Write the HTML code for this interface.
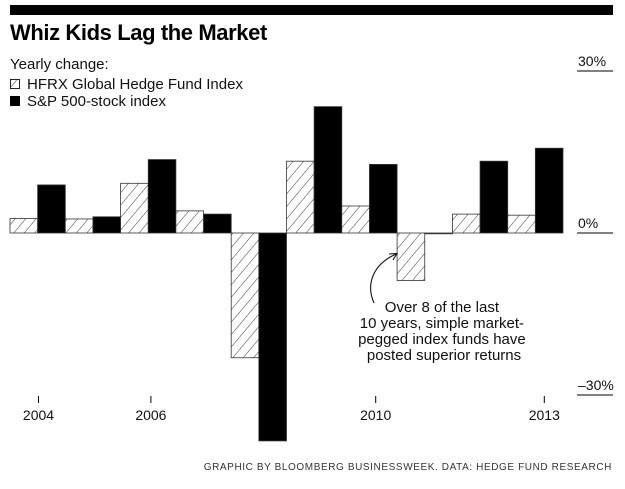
<!DOCTYPE html>
<html><head><meta charset="utf-8"><style>
html,body{margin:0;padding:0;background:#fff;}
svg{display:block;font-family:"Liberation Sans",Arial,sans-serif;}
</style></head><body>
<svg id="chart" width="625" height="489" viewBox="0 0 625 489">
<defs>
<pattern id="hatch" patternUnits="userSpaceOnUse" width="8" height="8" patternTransform="rotate(40)">
<rect width="8" height="8" fill="#fff"/>
<line x1="0" y1="0" x2="0" y2="8" stroke="#222" stroke-width="0.9"/>
</pattern>
</defs>
<rect x="10" y="5" width="603" height="10" fill="#000"/>
<text x="10" y="40" font-size="22" font-weight="bold" letter-spacing="-0.4" fill="#000">Whiz Kids Lag the Market</text>
<text x="10" y="69" font-size="15" fill="#111">Yearly change:</text>
<g>
<rect x="10.5" y="79.5" width="9" height="9" fill="url(#hatch)" stroke="#222" stroke-width="1"/>
<text x="27" y="89" font-size="15" fill="#111">HFRX Global Hedge Fund Index</text>
</g>
<g>
<rect x="10" y="96" width="10" height="10" fill="#000"/>
<text x="27" y="106" font-size="15" fill="#111">S&amp;P 500-stock index</text>
</g>
<g id="bars"></g>
<g id="axis"></g>
<g id="xaxis"></g>
<g>
<path d="M374,303 C366,285 372,265 396,254" fill="none" stroke="#111" stroke-width="1.1"/>
<path d="M389,254 L397,253.5 L393,260" fill="none" stroke="#111" stroke-width="1.1"/>
<text font-size="15" fill="#111" text-anchor="middle">
<tspan x="444" y="312">Over 8 of the last</tspan>
<tspan x="444" y="328">10 years, simple market-</tspan>
<tspan x="444" y="344">pegged index funds have</tspan>
<tspan x="444" y="360">posted superior returns</tspan>
</text>
</g>
<text x="612" y="470" font-size="10" letter-spacing="0.6" text-anchor="end" fill="#333">GRAPHIC BY BLOOMBERG BUSINESSWEEK. DATA: HEDGE FUND RESEARCH</text>
</svg>
<script>
const years = [2004,2005,2006,2007,2008,2009,2010,2011,2012,2013];
const hfrxValues = [2.7,2.6,9.2,4.1,-23.1,13.3,5.0,-8.8,3.5,3.3];
const sp500Values = [8.9,3.0,13.6,3.5,-38.5,23.4,12.7,0.0,13.3,15.7];
const yTicks = [30,0,-30];
const yTickLabels = ["30%","0%","\u201330%"];
const xTickYears = [2004,2006,2010,2013];

const NS = "http://www.w3.org/2000/svg";
const plotLeft = 10, plotRight = 563, zeroY = 233, pxPerPct = 5.4;
const step = (plotRight - plotLeft) / years.length;
const barW = step / 2;
const tickStep = 56.2, tickStart = 38.5;
function yScale(v){ return zeroY - v * pxPerPct; }
function xScale(i){ return plotLeft + i * step; }
function tickX(yr){ return tickStart + (yr - years[0]) * tickStep; }

const bars = document.getElementById('bars');
function bar(x, v, fill, name){
  const r = document.createElementNS(NS,'rect');
  const y0 = yScale(Math.max(v,0)), y1 = yScale(Math.min(v,0));
  r.setAttribute('x', x); r.setAttribute('width', barW);
  r.setAttribute('y', y0); r.setAttribute('height', Math.max(y1 - y0, 0.8));
  r.setAttribute('fill', fill); r.setAttribute('stroke', '#333'); r.setAttribute('stroke-width', '0.8');
  
  
  bars.appendChild(r);
}
years.forEach((yr,i)=>{
  bar(xScale(i), hfrxValues[i], 'url(#hatch)', 'bar-hfrx-' + yr);
  bar(xScale(i) + barW, sp500Values[i], '#000', 'bar-sp500-' + yr);
});

const axis = document.getElementById('axis');
yTicks.forEach((v,i)=>{
  const y = yScale(v);
  const l = document.createElementNS(NS,'line');
  l.setAttribute('x1', 577); l.setAttribute('x2', 613); l.setAttribute('y1', y); l.setAttribute('y2', y);
  l.setAttribute('stroke', '#000'); l.setAttribute('stroke-width', '1');
  
  
  axis.appendChild(l);
  const t = document.createElementNS(NS,'text');
  t.setAttribute('x', 578); t.setAttribute('y', y - 5); t.setAttribute('font-size', '14'); t.setAttribute('fill', '#111');
  t.textContent = yTickLabels[i];
  
  
  axis.appendChild(t);
});

const xaxis = document.getElementById('xaxis');
xTickYears.forEach(yr=>{
  const x = tickX(yr);
  const l = document.createElementNS(NS,'line');
  l.setAttribute('x1', x); l.setAttribute('x2', x); l.setAttribute('y1', 396); l.setAttribute('y2', 403);
  l.setAttribute('stroke', '#000'); l.setAttribute('stroke-width', '1');
  
  
  xaxis.appendChild(l);
  const t = document.createElementNS(NS,'text');
  t.setAttribute('x', x); t.setAttribute('y', 420); t.setAttribute('font-size', '14'); t.setAttribute('text-anchor', 'middle'); t.setAttribute('fill', '#111');
  t.textContent = yr;
  
  
  xaxis.appendChild(t);
});
</script>
</body></html>
